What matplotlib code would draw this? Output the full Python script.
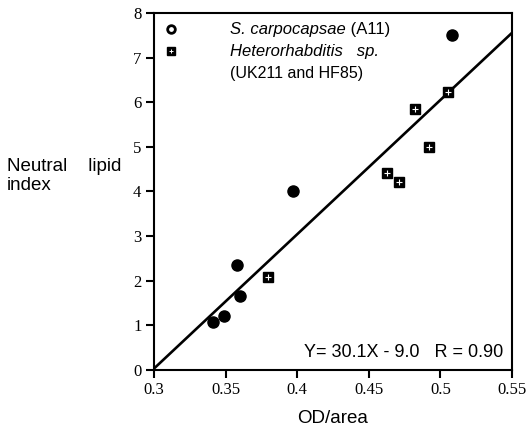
import numpy as np
import matplotlib
matplotlib.use("Agg")
import matplotlib.pyplot as plt

# S. carpocapsae (A11)
sc_x = [0.341, 0.349, 0.358, 0.360, 0.397, 0.508]
sc_y = [1.08, 1.20, 2.35, 1.65, 4.00, 7.50]

# Heterorhabditis sp. (UK211 and HF85)
het_x = [0.380, 0.463, 0.471, 0.482, 0.492, 0.505]
het_y = [2.09, 4.41, 4.21, 5.85, 4.99, 6.22]

# regression from the figure text
slope = 30.1
intercept = -9.0

xticks = [0.3, 0.35, 0.4, 0.45, 0.5, 0.55]
xtick_labels = ["0.3", "0.35", "0.4", "0.45", "0.5", "0.55"]
yticks = [0, 1, 2, 3, 4, 5, 6, 7, 8]

sans = "Liberation Sans"
serif = "Liberation Serif"

fig = plt.figure(figsize=(5.27, 4.33), dpi=100)
ax = fig.add_axes([0.292, 0.1455, 0.6795, 0.8245])

fit_x = np.array([0.3, 0.55])
ax.plot(fit_x, slope * fit_x + intercept, color="black", lw=1.9, zorder=2)

ax.plot(sc_x, sc_y, "o", color="black", ms=8, zorder=3)
ax.plot(het_x, het_y, "s", color="black", ms=7, zorder=3)
ax.plot(het_x, het_y, "+", color="white", ms=4, mew=0.8, zorder=4)

# legend, drawn by hand to match the original layout
ax.plot([0.0475], [0.955], "o", color="black", ms=5.5, mfc="white", mew=2,
        transform=ax.transAxes, clip_on=False)
ax.plot([0.0475], [0.893], "s", color="black", ms=6, transform=ax.transAxes)
ax.plot([0.0475], [0.893], "+", color="white", ms=3.5, mew=0.7, transform=ax.transAxes)
t1 = ax.text(0.212, 0.955, "S. carpocapsae", style="italic", family=sans, fontsize=12,
             va="center", ha="left", transform=ax.transAxes)
ax.annotate(" (A11)", xy=(1, 0.5), xycoords=t1, family=sans, fontsize=12,
            va="center", ha="left")
ax.text(0.212, 0.893, "Heterorhabditis   sp.", style="italic", family=sans, fontsize=12,
        va="center", ha="left", transform=ax.transAxes)
ax.text(0.212, 0.83, "(UK211 and HF85)", family=sans, fontsize=11.5,
        va="center", ha="left", transform=ax.transAxes)

ax.text(0.975, 0.05, "Y= 30.1X - 9.0   R = 0.90", family=sans, fontsize=13,
        ha="right", va="center", transform=ax.transAxes)

ax.set_xlim(0.3, 0.55)
ax.set_ylim(0, 8)
ax.set_xticks(xticks)
ax.set_xticklabels(xtick_labels)
ax.set_yticks(yticks)
for lab in ax.get_xticklabels() + ax.get_yticklabels():
    lab.set_family(serif)
    lab.set_fontsize(12)
ax.tick_params(direction="out", length=6, width=1.5, pad=3)
for sp in ax.spines.values():
    sp.set_linewidth(1.5)

ax.set_xlabel("OD/area", family=sans, fontsize=13.5, labelpad=8)
fig.text(0.013, 0.594, "Neutral    lipid\nindex", family=sans, fontsize=13.5,
         ha="left", va="center", linespacing=1.15)

fig.savefig("out.png", dpi=100)
